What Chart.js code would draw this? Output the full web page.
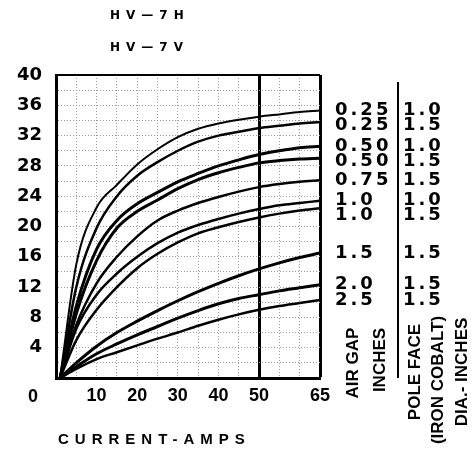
<!DOCTYPE html>
<html>
<head>
<meta charset="utf-8">
<script src="https://cdn.jsdelivr.net/npm/chart.js@4.4.0/dist/chart.umd.min.js"></script>
<style>
	body { margin: 0; background: #fff; }
	#wrap { width: 474px; height: 450px; }
</style>
</head>
<body>
<div id="wrap"><canvas id="chart_hv7" width="474" height="450"></canvas></div>
<script>
// current (amps) where each curve was read
const amps = [1, 5, 10, 15, 20, 25, 30, 35, 40, 45, 50, 55, 60, 65];

// holding force, one array per air gap / pole face pair
const gap025_face10 = [0, 15.0, 22.5, 25.5, 28.2, 30.2, 31.8, 32.9, 33.6, 34.1, 34.5, 34.8, 35.1, 35.3];
const gap025_face15 = [0, 12.0, 19.8, 24.0, 26.7, 28.5, 30.0, 31.2, 32.0, 32.5, 33.0, 33.3, 33.6, 33.8];
const gap050_face10 = [0, 9.5, 17.0, 20.8, 23.0, 24.5, 25.9, 27.0, 28.0, 28.8, 29.5, 30.0, 30.4, 30.6];
const gap050_face15 = [0, 8.5, 15.5, 19.8, 22.0, 23.5, 25.0, 26.2, 27.1, 27.8, 28.4, 28.7, 28.9, 29.0];
const gap075_face15 = [0, 7.0, 12.5, 16.0, 18.7, 20.8, 22.1, 23.1, 23.9, 24.6, 25.2, 25.6, 25.9, 26.1];
const gap10_face10 = [0, 6.5, 11.0, 13.8, 16.0, 17.8, 19.2, 20.2, 21.0, 21.7, 22.3, 22.8, 23.1, 23.4];
const gap10_face15 = [0, 5.0, 9.0, 12.0, 14.5, 16.4, 17.9, 19.1, 19.9, 20.6, 21.2, 21.7, 22.1, 22.4];
const gap15_face15 = [0, 2.0, 4.2, 6.0, 7.5, 8.9, 10.2, 11.4, 12.5, 13.5, 14.4, 15.2, 15.9, 16.5];
const gap20_face15 = [0, 1.5, 3.2, 4.5, 5.7, 6.8, 7.9, 8.9, 9.8, 10.5, 11.0, 11.5, 11.9, 12.3];
const gap25_face15 = [0, 1.2, 2.5, 3.4, 4.3, 5.2, 6.0, 6.9, 7.7, 8.4, 9.0, 9.5, 9.9, 10.3];

const curves = [gap025_face10, gap025_face15, gap050_face10, gap050_face15, gap075_face15,
	gap10_face10, gap10_face15, gap15_face15, gap20_face15, gap25_face15];
const airGap = ['0.25', '0.25', '0.50', '0.50', '0.75', '1.0', '1.0', '1.5', '2.0', '2.5'];
const poleFace = ['1.0', '1.5', '1.0', '1.5', '1.5', '1.0', '1.5', '1.5', '1.5', '1.5'];

// tick labels
const xTickLabels = [10, 20, 30, 40, 50, 65];
const yTickLabels = [4, 8, 12, 16, 20, 24, 28, 32, 36, 40];

// pen weights of the curves
const penWidths = [2, 2.5, 3, 3, 2.5, 2.5, 2.5, 3, 3, 2.5];

//Text around the chart
const textPlugin = {
	id: 'hv7_text',
	afterDraw(chart) {
		const ctx = chart.ctx;
		const yScale = chart.scales.y;
		const area = chart.chartArea;
		ctx.save();
		ctx.fillStyle = '#000';
		ctx.strokeStyle = '#000';
		ctx.textBaseline = 'middle';

		//Headings
		ctx.textAlign = 'left';
		ctx.font = 'bold 12px "DejaVu Sans"';
		ctx.letterSpacing = '6px';
		ctx.fillText('HV—7H', 110, 16);
		ctx.fillText('HV—7V', 110, 48);

		//Axis title and origin
		ctx.font = 'bold 15px "Liberation Sans"';
		ctx.letterSpacing = '6px';
		ctx.fillText('CURRENT-AMPS', 58, 440);
		ctx.letterSpacing = '0px';
		ctx.textAlign = 'center';
		ctx.font = 'bold 18px "Liberation Sans"';
		ctx.fillText('0', 33, 397);

		//Curve labels, placed at the curve ends
		ctx.font = 'bold 18px "DejaVu Sans"';
		ctx.letterSpacing = '3px';
		ctx.textAlign = 'left';
		let prev = -100;
		curves.forEach((c, i) => {
			let py = yScale.getPixelForValue(c[c.length - 1]);
			if (py < prev + 15) py = prev + 15;
			prev = py;
			ctx.fillText(airGap[i], 335, py);
			ctx.fillText(poleFace[i], 403, py);
		});

		//Column divider
		ctx.lineWidth = 2;
		ctx.beginPath();
		ctx.moveTo(398, 82);
		ctx.lineTo(398, area.bottom);
		ctx.stroke();

		//Rotated column titles
		ctx.letterSpacing = '0px';
		ctx.textAlign = 'center';
		ctx.font = 'bold 17px "Liberation Sans"';
		const vtext = (str, x, y) => {
			ctx.save();
			ctx.translate(x, y);
			ctx.rotate(-Math.PI / 2);
			ctx.fillText(str, 0, 0);
			ctx.restore();
		};
		vtext('AIR GAP', 353, 363);
		vtext('INCHES', 380, 360);
		vtext('POLE FACE', 415, 372);
		vtext('(IRON COBALT)', 438, 380);
		vtext('DIA.- INCHES', 462, 372);
		ctx.restore();
	}
};

const heavyX = v => v === 50 || v === 65;

const chart_hv7 = new Chart(document.getElementById('chart_hv7'), {
	type: 'line',
	data: {
		datasets: curves.map((c, i) => ({
			label: airGap[i] + ' / ' + poleFace[i],
			data: c.map((v, j) => ({x: amps[j], y: v})),
			borderColor: '#000',
			borderWidth: penWidths[i],
			pointRadius: 0,
			fill: false,
			cubicInterpolationMode: 'monotone'
		}))
	},
	options: {
		responsive: false,
		animation: false,
		devicePixelRatio: 1,
		layout: {
			padding: {left: 0, top: 75, right: 154, bottom: 0}
		},
		plugins: {
			legend: {display: false},
			tooltip: {enabled: false}
		},
		scales: {
			x: {
				type: 'linear',
				min: 0,
				max: 65,
				afterFit: s => { s.height = 72; },
				ticks: {
					stepSize: 5,
					autoSkip: false,
					maxRotation: 0,
					padding: 7,
					color: '#000',
					font: {family: 'Liberation Sans', size: 18, weight: 'bold'},
					callback: v => xTickLabels.includes(v) ? String(v) : ''
				},
				grid: {
					drawTicks: false,
					color: ctx => (ctx.tick && heavyX(ctx.tick.value)) ? '#000' : '#9a9a9a',
					lineWidth: ctx => (ctx.tick && heavyX(ctx.tick.value)) ? 3 : 1
				},
				border: {
					display: true,
					color: '#000',
					width: 3,
					dash: ctx => (ctx.tick && heavyX(ctx.tick.value)) ? [] : [1, 2]
				}
			},
			y: {
				min: 0,
				max: 40,
				afterFit: s => { s.width = 56; },
				ticks: {
					stepSize: 2,
					autoSkip: false,
					padding: 14,
					color: '#000',
					font: {family: 'DejaVu Sans', size: 18, weight: 'bold'},
					callback: v => yTickLabels.includes(v) ? String(v) : ''
				},
				grid: {
					drawTicks: false,
					color: ctx => (ctx.tick && ctx.tick.value === 40) ? '#000' : '#9a9a9a',
					lineWidth: ctx => (ctx.tick && ctx.tick.value === 40) ? 2 : 1
				},
				border: {
					display: true,
					color: '#000',
					width: 3,
					dash: ctx => (ctx.tick && ctx.tick.value === 40) ? [] : [1, 2]
				}
			}
		}
	},
	plugins: [textPlugin]
});
</script>
</body>
</html>
